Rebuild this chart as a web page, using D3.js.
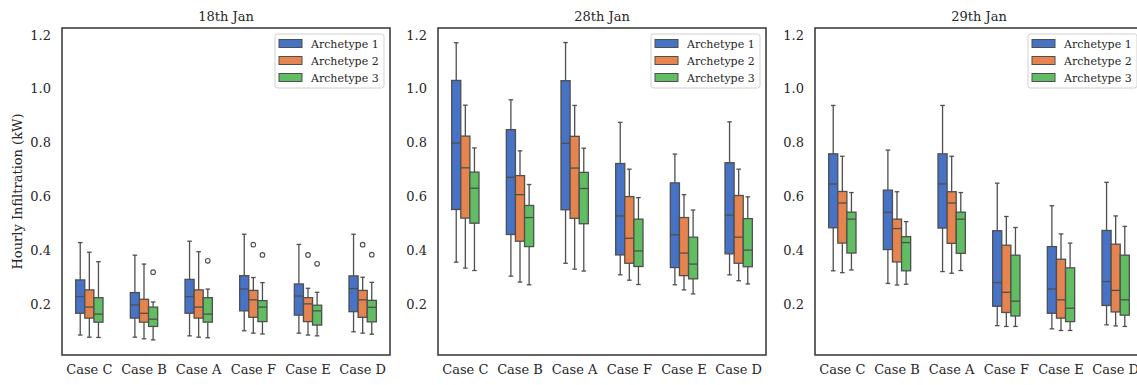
<!DOCTYPE html>
<html>
<head>
<meta charset="utf-8">
<script src="https://cdn.jsdelivr.net/npm/d3@7"></script>
<style>
html,body{margin:0;padding:0;background:#fff;}
svg{display:block;font-family:"DejaVu Serif",serif;}
</style>
</head>
<body>
<svg id="chart" width="1137" height="385"></svg>
<script>
// ---- data ----
const cases = ["Case C","Case B","Case A","Case F","Case E","Case D"];
const archetypes = ["Archetype 1","Archetype 2","Archetype 3"];
const dates = ["18th Jan","28th Jan","29th Jan"];
const yTicks = [0.2,0.4,0.6,0.8,1.0,1.2];
// five-number summaries per case: [lower whisker, Q1, median, Q3, upper whisker]
const jan18_arch1 = [[0.084,0.165,0.227,0.289,0.428],[0.076,0.147,0.196,0.242,0.381],[0.081,0.165,0.227,0.291,0.433],[0.100,0.174,0.255,0.305,0.459],[0.091,0.158,0.229,0.274,0.421],[0.096,0.171,0.257,0.304,0.459]];
const jan18_arch2 = [[0.076,0.147,0.188,0.252,0.392],[0.070,0.132,0.165,0.217,0.348],[0.076,0.147,0.188,0.252,0.394],[0.091,0.150,0.215,0.250,0.298],[0.084,0.134,0.200,0.223,0.258],[0.091,0.150,0.215,0.250,0.299]];
const jan18_arch3 = [[0.075,0.132,0.162,0.223,0.357],[0.066,0.116,0.143,0.188,0.207],[0.074,0.132,0.162,0.223,0.255],[0.088,0.134,0.188,0.212,0.279],[0.081,0.121,0.174,0.195,0.243],[0.087,0.133,0.187,0.213,0.280]];
const jan28_arch1 = [[0.355,0.551,0.798,1.031,1.171],[0.303,0.458,0.671,0.848,0.959],[0.351,0.550,0.797,1.030,1.172],[0.308,0.382,0.527,0.722,0.875],[0.271,0.335,0.457,0.650,0.757],[0.308,0.386,0.530,0.725,0.877]];
const jan28_arch2 = [[0.333,0.519,0.706,0.824,0.939],[0.281,0.433,0.606,0.677,0.769],[0.329,0.518,0.705,0.823,0.938],[0.288,0.351,0.444,0.599,0.701],[0.252,0.305,0.389,0.521,0.606],[0.286,0.351,0.448,0.603,0.701]];
const jan28_arch3 = [[0.324,0.500,0.630,0.690,0.780],[0.271,0.413,0.521,0.566,0.644],[0.322,0.498,0.629,0.689,0.779],[0.272,0.339,0.397,0.515,0.595],[0.237,0.293,0.348,0.448,0.549],[0.274,0.338,0.400,0.517,0.598]];
const jan29_arch1 = [[0.323,0.483,0.646,0.758,0.938],[0.276,0.402,0.541,0.623,0.772],[0.320,0.482,0.646,0.758,0.938],[0.119,0.191,0.279,0.472,0.649],[0.107,0.165,0.255,0.413,0.565],[0.122,0.194,0.283,0.473,0.652]];
const jan29_arch2 = [[0.316,0.426,0.575,0.618,0.749],[0.270,0.356,0.480,0.515,0.617],[0.314,0.425,0.575,0.617,0.749],[0.116,0.168,0.243,0.418,0.525],[0.101,0.147,0.215,0.366,0.460],[0.118,0.170,0.250,0.422,0.527]];
const jan29_arch3 = [[0.326,0.389,0.515,0.541,0.614],[0.273,0.323,0.428,0.450,0.506],[0.324,0.388,0.515,0.541,0.614],[0.116,0.155,0.210,0.381,0.484],[0.101,0.134,0.184,0.334,0.426],[0.116,0.158,0.215,0.381,0.488]];
// outliers: [case, archetype index, value]
const jan18_outliers = [["Case B",2,0.318],["Case A",2,0.360],["Case F",1,0.420],["Case F",2,0.382],["Case E",1,0.382],["Case E",2,0.349],["Case D",1,0.420],["Case D",2,0.383]];
const jan28_outliers = [];
const jan29_outliers = [];

const panelData = [
  {title:dates[0], series:[jan18_arch1,jan18_arch2,jan18_arch3], outliers:jan18_outliers},
  {title:dates[1], series:[jan28_arch1,jan28_arch2,jan28_arch3], outliers:jan28_outliers},
  {title:dates[2], series:[jan29_arch1,jan29_arch2,jan29_arch3], outliers:jan29_outliers}
];

// ---- style / layout ----
const colors = ["#4673c6","#e6844f","#60bd62"];
const lineCol = "#4f4f4f";
const panelLeft = [62,438,815];
const panelW = 328, plotTop = 28, plotBottom = 355;

const svg = d3.select("#chart");
const y = d3.scaleLinear().domain([0.0098,1.226]).range([plotBottom, plotTop]);
const x = d3.scaleBand().domain(cases).range([0,panelW]).paddingInner(0).paddingOuter(0);
const hue = d3.scaleBand().domain([0,1,2]).range([-x.bandwidth()*0.25, x.bandwidth()*0.25]);

panelData.forEach((p,pi)=>{
  const g = svg.append("g").attr("transform",`translate(${panelLeft[pi]},0)`);
  const ya = g.append("g").call(d3.axisLeft(y).tickValues(yTicks).tickFormat(d3.format(".1f")).tickSize(0).tickPadding(11));
  ya.select(".domain").remove();
  ya.selectAll("text").attr("font-size",13).attr("fill","#262626").attr("font-family","DejaVu Serif");
  const xa = g.append("g").attr("transform",`translate(0,${plotBottom})`).call(d3.axisBottom(x).tickSize(0).tickPadding(10));
  xa.select(".domain").remove();
  xa.selectAll("text").attr("font-size",13).attr("fill","#262626").attr("font-family","DejaVu Serif");
  g.append("text").attr("x",panelW/2).attr("y",21).attr("text-anchor","middle")
    .attr("font-size",13).attr("fill","#262626").text(p.title);

  p.series.forEach((ser,si)=>{
    ser.forEach((s,ci)=>{
      const cx = x(cases[ci]) + x.bandwidth()/2 + hue(si) + hue.bandwidth()/2;
      const w = hue.bandwidth();
      const bx = g.append("g");
      bx.append("line").attr("x1",cx).attr("x2",cx).attr("y1",y(s[3])).attr("y2",y(s[4])).attr("stroke",lineCol).attr("stroke-width",1.3);
      bx.append("line").attr("x1",cx).attr("x2",cx).attr("y1",y(s[1])).attr("y2",y(s[0])).attr("stroke",lineCol).attr("stroke-width",1.3);
      [s[0],s[4]].forEach(v=>{
        bx.append("line").attr("x1",cx-w/4).attr("x2",cx+w/4).attr("y1",y(v)).attr("y2",y(v)).attr("stroke",lineCol).attr("stroke-width",1.3);
      });
      bx.append("rect").attr("x",cx-w/2).attr("width",w).attr("y",y(s[3])).attr("height",y(s[1])-y(s[3]))
        .attr("fill",colors[si]).attr("stroke",lineCol).attr("stroke-width",1.3);
      bx.append("line").attr("x1",cx-w/2).attr("x2",cx+w/2).attr("y1",y(s[2])).attr("y2",y(s[2])).attr("stroke",lineCol).attr("stroke-width",1.3);
    });
  });
  p.outliers.forEach(o=>{
    const cx = x(o[0]) + x.bandwidth()/2 + hue(o[1]) + hue.bandwidth()/2;
    g.append("circle").attr("cx",cx).attr("cy",y(o[2])).attr("r",2.3)
      .attr("fill","none").attr("stroke",lineCol).attr("stroke-width",1.1);
  });

  g.append("rect").attr("x",0).attr("y",plotTop).attr("width",panelW).attr("height",plotBottom-plotTop)
    .attr("fill","none").attr("stroke","#333").attr("stroke-width",1.5);

  const lg = g.append("g").attr("transform",`translate(${panelW-115},${plotTop+6})`);
  lg.append("rect").attr("x",0).attr("y",0).attr("width",109).attr("height",54).attr("rx",2.5)
    .attr("fill","#fff").attr("fill-opacity",0.8).attr("stroke","#d0d0d0").attr("stroke-width",1);
  archetypes.forEach((a,i)=>{
    const yy = 9.5 + i*17;
    lg.append("rect").attr("x",4).attr("y",yy-4).attr("width",23).attr("height",8)
      .attr("fill",colors[i]).attr("stroke",lineCol).attr("stroke-width",1);
    lg.append("text").attr("x",36).attr("y",yy+4).attr("font-size",11).attr("fill","#262626").text(a);
  });
});

svg.append("text").attr("transform",`translate(22,${(plotTop+plotBottom)/2}) rotate(-90)`)
  .attr("text-anchor","middle").attr("font-size",13).attr("fill","#262626").text("Hourly Infiltration (kW)");
</script>
</body>
</html>
